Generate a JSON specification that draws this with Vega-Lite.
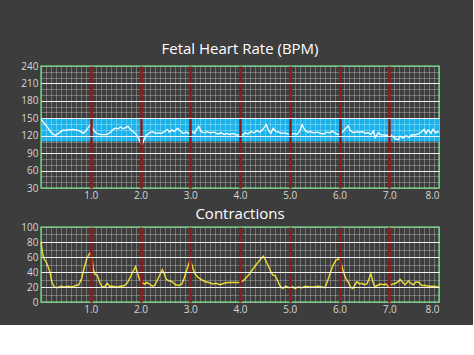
{
  "$schema": "https://vega.github.io/schema/vega-lite/v6.json",
  "background": "#3d3d3d",
  "padding": {"left": 20, "top": 41, "right": 30, "bottom": 10},
  "spacing": 5,
  "config": {
    "view": {"stroke": "#63c474", "strokeWidth": 1.5},
    "axis": {"labelFont": "Open Sans", "labelColor": "#d6d6d6", "labelFontSize": 10, "ticks": false, "domain": false, "title": null, "labelPadding": 2, "zindex": 1},
    "title": {"font": "Open Sans", "fontSize": 15, "color": "#ffffff", "fontWeight": "normal", "offset": 4, "anchor": "middle"}
  },
  "datasets": {
    "band": [{"lo": 110, "hi": 150}],
    "fhr": [
      {"t":0.00,"bpm":148},{"t":0.05,"bpm":143},{"t":0.10,"bpm":138},{"t":0.15,"bpm":132},{"t":0.20,"bpm":126},{"t":0.25,"bpm":122},{"t":0.30,"bpm":121},{"t":0.35,"bpm":124},{"t":0.40,"bpm":127},{"t":0.45,"bpm":130},{"t":0.50,"bpm":129},{"t":0.55,"bpm":131},{"t":0.60,"bpm":130},{"t":0.65,"bpm":131},{"t":0.70,"bpm":130},{"t":0.75,"bpm":129},{"t":0.80,"bpm":127},{"t":0.85,"bpm":124},{"t":0.90,"bpm":128},{"t":0.95,"bpm":134},{"t":1.00,"bpm":139},{"t":1.05,"bpm":131},{"t":1.10,"bpm":125},{"t":1.15,"bpm":123},{"t":1.20,"bpm":122},{"t":1.30,"bpm":122},{"t":1.35,"bpm":123},{"t":1.40,"bpm":126},{"t":1.45,"bpm":131},{"t":1.50,"bpm":133},{"t":1.55,"bpm":132},{"t":1.60,"bpm":135},{"t":1.65,"bpm":132},{"t":1.70,"bpm":134},{"t":1.75,"bpm":136},{"t":1.80,"bpm":130},{"t":1.85,"bpm":127},{"t":1.90,"bpm":124},{"t":1.95,"bpm":117},{"t":2.00,"bpm":108},{"t":2.03,"bpm":104},{"t":2.07,"bpm":113},{"t":2.12,"bpm":121},{"t":2.18,"bpm":125},{"t":2.24,"bpm":127},{"t":2.30,"bpm":124},{"t":2.36,"bpm":125},{"t":2.42,"bpm":124},{"t":2.48,"bpm":127},{"t":2.54,"bpm":131},{"t":2.58,"bpm":126},{"t":2.63,"bpm":130},{"t":2.68,"bpm":127},{"t":2.74,"bpm":133},{"t":2.80,"bpm":128},{"t":2.86,"bpm":124},{"t":2.92,"bpm":126},{"t":2.97,"bpm":124},{"t":3.03,"bpm":128},{"t":3.08,"bpm":124},{"t":3.13,"bpm":131},{"t":3.17,"bpm":136},{"t":3.22,"bpm":127},{"t":3.28,"bpm":125},{"t":3.34,"bpm":127},{"t":3.40,"bpm":125},{"t":3.48,"bpm":126},{"t":3.55,"bpm":123},{"t":3.62,"bpm":125},{"t":3.68,"bpm":122},{"t":3.74,"bpm":124},{"t":3.80,"bpm":122},{"t":3.86,"bpm":124},{"t":3.93,"bpm":121},{"t":4.00,"bpm":122},{"t":4.06,"bpm":121},{"t":4.10,"bpm":125},{"t":4.16,"bpm":123},{"t":4.22,"bpm":127},{"t":4.28,"bpm":125},{"t":4.34,"bpm":129},{"t":4.40,"bpm":126},{"t":4.46,"bpm":131},{"t":4.53,"bpm":139},{"t":4.58,"bpm":128},{"t":4.62,"bpm":124},{"t":4.67,"bpm":133},{"t":4.72,"bpm":127},{"t":4.78,"bpm":126},{"t":4.84,"bpm":124},{"t":4.90,"bpm":125},{"t":4.96,"bpm":123},{"t":5.02,"bpm":122},{"t":5.08,"bpm":124},{"t":5.14,"bpm":122},{"t":5.20,"bpm":128},{"t":5.25,"bpm":139},{"t":5.30,"bpm":130},{"t":5.36,"bpm":126},{"t":5.42,"bpm":127},{"t":5.48,"bpm":125},{"t":5.55,"bpm":126},{"t":5.62,"bpm":124},{"t":5.68,"bpm":123},{"t":5.74,"bpm":126},{"t":5.80,"bpm":125},{"t":5.86,"bpm":128},{"t":5.92,"bpm":124},{"t":5.98,"bpm":122},{"t":6.04,"bpm":125},{"t":6.10,"bpm":130},{"t":6.17,"bpm":137},{"t":6.22,"bpm":129},{"t":6.28,"bpm":125},{"t":6.34,"bpm":127},{"t":6.40,"bpm":126},{"t":6.46,"bpm":127},{"t":6.52,"bpm":124},{"t":6.58,"bpm":125},{"t":6.63,"bpm":122},{"t":6.68,"bpm":128},{"t":6.72,"bpm":117},{"t":6.78,"bpm":125},{"t":6.84,"bpm":121},{"t":6.90,"bpm":122},{"t":6.96,"bpm":120},{"t":7.02,"bpm":122},{"t":7.08,"bpm":118},{"t":7.14,"bpm":114},{"t":7.18,"bpm":113},{"t":7.22,"bpm":119},{"t":7.28,"bpm":116},{"t":7.34,"bpm":120},{"t":7.40,"bpm":117},{"t":7.46,"bpm":122},{"t":7.52,"bpm":121},{"t":7.58,"bpm":123},{"t":7.64,"bpm":126},{"t":7.70,"bpm":131},{"t":7.74,"bpm":124},{"t":7.78,"bpm":130},{"t":7.84,"bpm":124},{"t":7.88,"bpm":131},{"t":7.93,"bpm":125},{"t":7.97,"bpm":127},{"t":8.00,"bpm":126}
    ],
    "toco": [
      {"t":0.00,"v":80},{"t":0.03,"v":65},{"t":0.06,"v":58},{"t":0.12,"v":51},{"t":0.18,"v":40},{"t":0.22,"v":26},{"t":0.27,"v":20},{"t":0.33,"v":19},{"t":0.40,"v":21},{"t":0.47,"v":20},{"t":0.55,"v":21},{"t":0.62,"v":20},{"t":0.70,"v":22},{"t":0.76,"v":23},{"t":0.82,"v":32},{"t":0.87,"v":46},{"t":0.92,"v":58},{"t":0.98,"v":65},{"t":1.02,"v":62},{"t":1.05,"v":44},{"t":1.08,"v":37},{"t":1.13,"v":36},{"t":1.18,"v":26},{"t":1.23,"v":20},{"t":1.29,"v":21},{"t":1.33,"v":25},{"t":1.38,"v":21},{"t":1.45,"v":21},{"t":1.52,"v":20},{"t":1.60,"v":21},{"t":1.68,"v":22},{"t":1.74,"v":26},{"t":1.80,"v":34},{"t":1.86,"v":42},{"t":1.90,"v":47},{"t":1.94,"v":38},{"t":1.98,"v":30},{"t":2.03,"v":26},{"t":2.08,"v":24},{"t":2.13,"v":26},{"t":2.18,"v":24},{"t":2.24,"v":21},{"t":2.28,"v":22},{"t":2.33,"v":28},{"t":2.38,"v":35},{"t":2.44,"v":43},{"t":2.48,"v":37},{"t":2.52,"v":30},{"t":2.58,"v":28},{"t":2.64,"v":27},{"t":2.70,"v":23},{"t":2.77,"v":22},{"t":2.83,"v":24},{"t":2.88,"v":32},{"t":2.94,"v":45},{"t":3.00,"v":56},{"t":3.04,"v":48},{"t":3.09,"v":38},{"t":3.15,"v":33},{"t":3.22,"v":30},{"t":3.30,"v":27},{"t":3.38,"v":26},{"t":3.45,"v":24},{"t":3.52,"v":25},{"t":3.60,"v":23},{"t":3.68,"v":25},{"t":3.76,"v":26},{"t":3.85,"v":26},{"t":3.92,"v":26},{"t":4.00,"v":26},{"t":4.06,"v":28},{"t":4.12,"v":32},{"t":4.20,"v":38},{"t":4.27,"v":45},{"t":4.34,"v":51},{"t":4.40,"v":56},{"t":4.47,"v":61},{"t":4.52,"v":55},{"t":4.57,"v":48},{"t":4.62,"v":40},{"t":4.66,"v":36},{"t":4.71,"v":35},{"t":4.76,"v":28},{"t":4.80,"v":22},{"t":4.86,"v":18},{"t":4.92,"v":21},{"t":4.98,"v":19},{"t":5.04,"v":21},{"t":5.10,"v":18},{"t":5.17,"v":20},{"t":5.24,"v":19},{"t":5.32,"v":21},{"t":5.40,"v":20},{"t":5.48,"v":20},{"t":5.57,"v":21},{"t":5.64,"v":20},{"t":5.71,"v":19},{"t":5.76,"v":28},{"t":5.81,"v":38},{"t":5.87,"v":49},{"t":5.93,"v":56},{"t":5.99,"v":58},{"t":6.04,"v":49},{"t":6.08,"v":40},{"t":6.13,"v":31},{"t":6.18,"v":26},{"t":6.23,"v":19},{"t":6.27,"v":18},{"t":6.32,"v":24},{"t":6.35,"v":27},{"t":6.40,"v":24},{"t":6.45,"v":25},{"t":6.50,"v":23},{"t":6.55,"v":24},{"t":6.60,"v":32},{"t":6.63,"v":38},{"t":6.67,"v":27},{"t":6.71,"v":20},{"t":6.76,"v":22},{"t":6.82,"v":24},{"t":6.88,"v":23},{"t":6.93,"v":24},{"t":6.98,"v":21},{"t":7.03,"v":23},{"t":7.08,"v":24},{"t":7.13,"v":25},{"t":7.18,"v":27},{"t":7.22,"v":30},{"t":7.27,"v":26},{"t":7.32,"v":23},{"t":7.38,"v":28},{"t":7.43,"v":25},{"t":7.48,"v":23},{"t":7.54,"v":27},{"t":7.60,"v":26},{"t":7.65,"v":22},{"t":7.72,"v":22},{"t":7.80,"v":21},{"t":7.90,"v":21},{"t":8.00,"v":20}
    ]
  },
  "vconcat": [
    {
      "width": 398,
      "height": 122,
      "title": "Fetal Heart Rate (BPM)",
      "layer": [
        {
          "data": {"name": "band"},
          "mark": {"type": "rect", "color": "#1cb2ea"},
          "encoding": {
            "x": {"datum": 0, "type": "quantitative", "scale": {"domain": [0, 8], "nice": false}, "axis": {"orient": "bottom", "zindex": 1, "tickCount": 80, "labels": false, "grid": true, "gridColor": "#ffffff", "gridOpacity": 0.35, "gridWidth": 0.8}},
            "x2": {"datum": 8},
            "y": {"field": "lo", "type": "quantitative", "scale": {"domain": [30, 240], "nice": false}, "axis": {"orient": "left", "zindex": 1, "tickCount": 21, "labels": false, "grid": true, "gridColor": "#ffffff", "gridOpacity": 0.35, "gridWidth": 0.8}},
            "y2": {"field": "hi"}
          }
        },
        {
          "data": {"name": "fhr"},
          "mark": {"type": "line", "color": "#ffffff", "strokeWidth": 1.3},
          "encoding": {
            "x": {"field": "t", "type": "quantitative", "axis": {"orient": "bottom", "zindex": 2, "values": [1,2,3,4,5,6,7,8], "format": ".1f", "grid": true, "gridColor": {"condition": {"test": "datum.value >= 8", "value": "transparent"}, "value": "#8e1c1c"}, "gridWidth": 2.5, "gridOpacity": 1}},
            "y": {"field": "bpm", "type": "quantitative", "axis": {"orient": "left", "zindex": 2, "labelPadding": 3, "values": [30,60,90,120,150,180,210,240], "grid": true, "gridColor": {"condition": {"test": "datum.value <= 30 || datum.value >= 240", "value": "transparent"}, "value": "#f2f2f2"}, "gridWidth": 1.2, "gridOpacity": 1}}
          }
        }
      ],
      "resolve": {"axis": {"x": "independent", "y": "independent"}}
    },
    {
      "width": 398,
      "height": 75,
      "title": {"text": "Contractions", "offset": 0},
      "data": {"name": "toco"},
      "layer": [
        {
          "mark": {"type": "line", "color": "#e6d52a", "strokeWidth": 1.5, "opacity": 0},
          "encoding": {
            "x": {"field": "t", "type": "quantitative", "scale": {"domain": [0, 8], "nice": false}, "axis": {"orient": "bottom", "zindex": 1, "tickCount": 80, "labels": false, "grid": true, "gridColor": "#ffffff", "gridOpacity": 0.35, "gridWidth": 0.8}},
            "y": {"field": "v", "type": "quantitative", "scale": {"domain": [0, 100], "nice": false}, "axis": {"orient": "left", "zindex": 1, "tickCount": 10, "labels": false, "grid": true, "gridColor": "#ffffff", "gridOpacity": 0.35, "gridWidth": 0.8}}
          }
        },
        {
          "mark": {"type": "line", "color": "#e6d52a", "strokeWidth": 1.5},
          "encoding": {
            "x": {"field": "t", "type": "quantitative", "axis": {"orient": "bottom", "zindex": 2, "values": [1,2,3,4,5,6,7,8], "format": ".1f", "grid": true, "gridColor": {"condition": {"test": "datum.value >= 8", "value": "transparent"}, "value": "#8e1c1c"}, "gridWidth": 2.5, "gridOpacity": 1}},
            "y": {"field": "v", "type": "quantitative", "axis": {"orient": "left", "zindex": 2, "labelPadding": 3, "values": [0,20,40,60,80,100], "grid": true, "gridColor": {"condition": {"test": "datum.value <= 0 || datum.value >= 100", "value": "transparent"}, "value": "#f2f2f2"}, "gridWidth": 1.2, "gridOpacity": 1}}
          }
        }
      ],
      "resolve": {"axis": {"x": "independent", "y": "independent"}}
    }
  ]
}
